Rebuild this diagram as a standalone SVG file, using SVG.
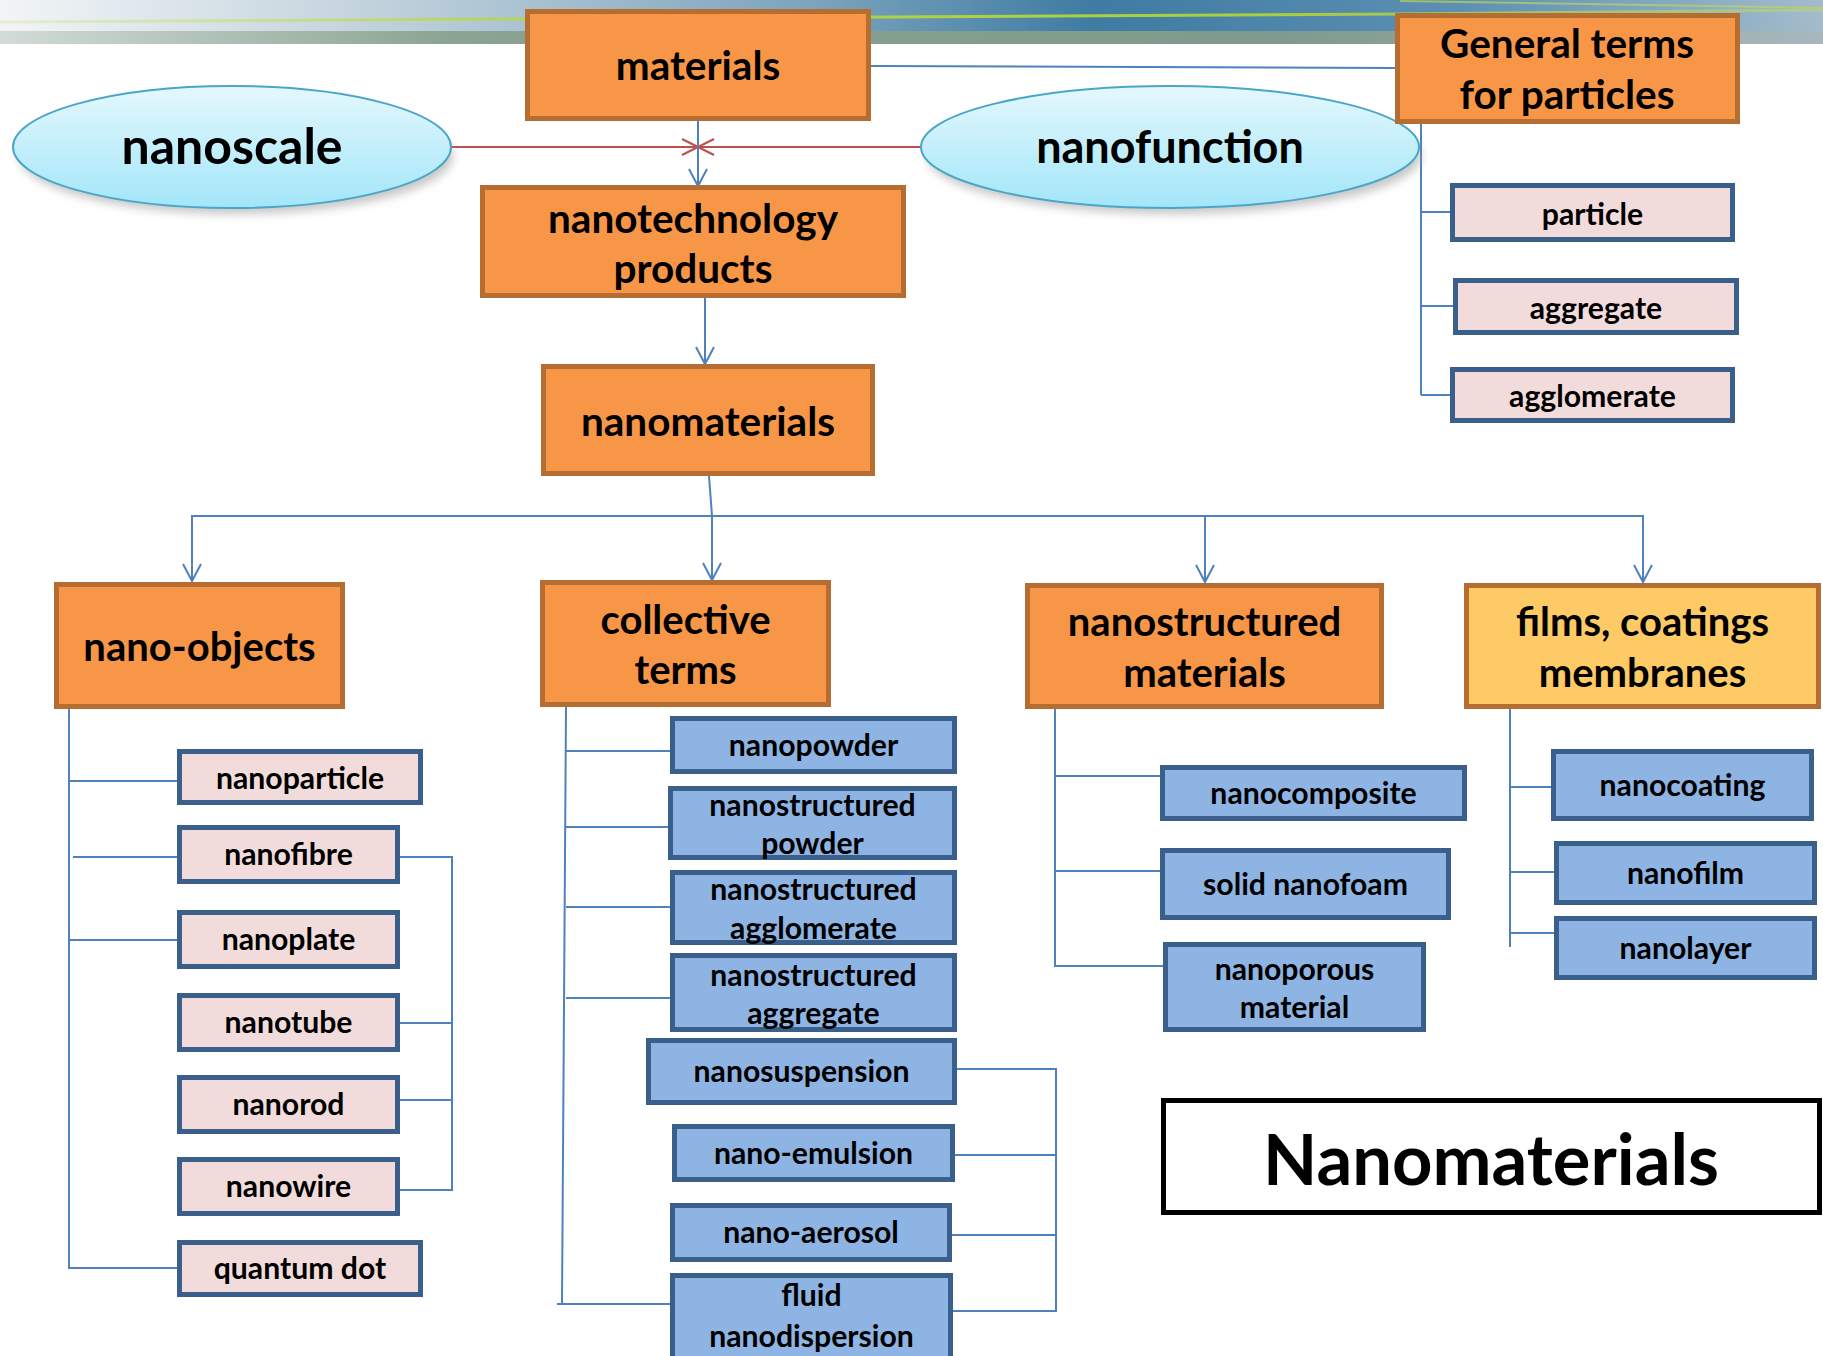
<svg xmlns="http://www.w3.org/2000/svg" width="1823" height="1356" viewBox="0 0 1823 1356">
<defs>
<style>
.t{font-family:Lato,"Open Sans","Liberation Sans",sans-serif;font-weight:bold;fill:#000;text-anchor:middle}
.or{fill:#f79646;stroke:#b66d31;stroke-width:5}
.yl{fill:#fdca65;stroke:#b66d31;stroke-width:5}
.pk{fill:#f2dcdb;stroke:#3a5f8b;stroke-width:5}
.bl{fill:#8eb4e3;stroke:#3a5f8b;stroke-width:5}
.c{fill:none;stroke:#4f81bd;stroke-width:2}
.l1{font-size:40.5px}
.l2{font-size:40px}
.l3{font-size:30.2px}
</style>
<marker id="arr" markerUnits="userSpaceOnUse" markerWidth="24" markerHeight="24" viewBox="-20 -12 24 24" refX="0" refY="0" orient="auto-start-reverse">
<path d="M-17,-9 L0,0 L-17,9" fill="none" stroke="#4f81bd" stroke-width="2"/>
</marker>
<linearGradient id="ell" x1="0" y1="0" x2="0" y2="1">
<stop offset="0" stop-color="#e4f8fd"/>
<stop offset="1" stop-color="#a3e6f9"/>
</linearGradient>
<filter id="sh" x="-20%" y="-20%" width="140%" height="160%">
<feGaussianBlur stdDeviation="5"/>
</filter>
<linearGradient id="ban" x1="0" y1="0" x2="1" y2="0">
<stop offset="0" stop-color="#f2f5f7"/>
<stop offset="0.2" stop-color="#c3d3dd"/>
<stop offset="0.45" stop-color="#7aa3bd"/>
<stop offset="0.6" stop-color="#3f7ba3"/>
<stop offset="0.8" stop-color="#5d8fb3"/>
<stop offset="1" stop-color="#a3bccc"/>
</linearGradient>
<linearGradient id="band" x1="0" y1="0" x2="1" y2="0">
<stop offset="0" stop-color="#d3dbd7"/>
<stop offset="0.25" stop-color="#8aa392"/>
<stop offset="0.7" stop-color="#7f9a8c"/>
<stop offset="1" stop-color="#a9b7bd"/>
</linearGradient>
<linearGradient id="yline" x1="0" y1="0" x2="1" y2="0">
<stop offset="0" stop-color="#d6e69a" stop-opacity="0.4"/>
<stop offset="0.3" stop-color="#b4d44a"/>
<stop offset="0.7" stop-color="#a8cf3c"/>
<stop offset="1" stop-color="#c2d86a" stop-opacity="0.5"/>
</linearGradient>
</defs>

<g id="banner">
<rect x="0" y="0" width="1823" height="44" fill="url(#ban)"/>
<rect x="0" y="31" width="1823" height="13" fill="url(#band)"/>
<path d="M0,22 C400,20 800,16 1400,14 L1823,10" fill="none" stroke="url(#yline)" stroke-width="3"/>
<path d="M1400,1 C1600,3 1700,6 1823,8" fill="none" stroke="#b9d45a" stroke-width="2" opacity="0.7"/>
</g>

<g id="connectors">
<line x1="871" y1="66" x2="1395" y2="68" class="c"/>
<line x1="451" y1="147" x2="921" y2="147" stroke="#c0504d" stroke-width="2"/>
<path d="M682,139 L714,155 M682,155 L714,139" stroke="#c0504d" stroke-width="2"/>
<line x1="698" y1="121" x2="698" y2="186" class="c" marker-end="url(#arr)"/>
<line x1="705" y1="298" x2="705" y2="364" class="c" marker-end="url(#arr)"/>
<line x1="709" y1="476" x2="712" y2="516" class="c"/>
<polyline points="192,581 192,516 1643,516 1643,582" class="c" marker-start="url(#arr)" marker-end="url(#arr)"/>
<line x1="712" y1="516" x2="712" y2="580" class="c" marker-end="url(#arr)"/>
<line x1="1205" y1="516" x2="1205" y2="582" class="c" marker-end="url(#arr)"/>
<path d="M1421,116 L1421,395 M1421,212 L1450,212 M1421,306 L1453,306 M1421,395 L1450,395" class="c"/>
<path d="M69,709 L69,1268 L177,1268 M69,781 L177,781 M73,857 L177,857 M69,940 L177,940" class="c"/>
<path d="M400,857 L452,857 L452,1190 L400,1190 M400,1023 L452,1023 M400,1100 L452,1100" class="c"/>
<path d="M566,707 L562,1304 M557,1304 L670,1304 M566,751 L670,751 M566,827 L668,827 M566,907 L670,907 M566,998 L670,998" class="c"/>
<path d="M957,1069 L1056,1069 L1056,1311 L953,1311 M955,1155 L1056,1155 M952,1235 L1056,1235" class="c"/>
<path d="M1055,709 L1055,966 L1163,966 M1055,776 L1160,776 M1055,871 L1160,871" class="c"/>
<path d="M1510,709 L1510,947 M1510,787 L1551,787 M1510,872 L1554,872 M1510,933 L1554,933" class="c"/>
</g>

<g id="nanoscale">
<ellipse cx="236" cy="156" rx="217" ry="58" fill="#999" opacity="0.55" filter="url(#sh)"/>
<ellipse cx="232" cy="147" rx="219" ry="61" fill="url(#ell)" stroke="#4aa6c8" stroke-width="2"/>
<text x="232" y="164" class="t" style="font-size:50px">nanoscale</text>
</g>
<g id="nanofunction">
<ellipse cx="1174" cy="156" rx="247" ry="58" fill="#999" opacity="0.55" filter="url(#sh)"/>
<ellipse cx="1170" cy="147" rx="249" ry="61" fill="url(#ell)" stroke="#4aa6c8" stroke-width="2"/>
<text x="1170" y="163" class="t" style="font-size:45px">nanofunction</text>
</g>

<g id="materials"><rect x="527.5" y="11.5" width="341" height="107" class="or"/><text x="698" y="80" class="t l1">materials</text></g>
<g id="general-terms"><rect x="1397.5" y="15.5" width="340" height="106" class="or"/><text x="1567" y="58" class="t l1">General terms</text><text x="1567" y="109" class="t l1">for particles</text></g>
<g id="nanotechnology-products"><rect x="482.5" y="187.5" width="421" height="108" class="or"/><text x="693" y="233" class="t l1">nanotechnology</text><text x="693" y="283" class="t l1">products</text></g>
<g id="nanomaterials"><rect x="543.5" y="366.5" width="329" height="107" class="or"/><text x="708" y="436" class="t l1">nanomaterials</text></g>

<g id="nano-objects"><rect x="56.5" y="584.5" width="286" height="122" class="or"/><text x="199.5" y="661" class="t l2">nano-objects</text></g>
<g id="collective-terms"><rect x="542.5" y="582.5" width="286" height="122" class="or"/><text x="685.5" y="634" class="t l2">collective</text><text x="685.5" y="684" class="t l2">terms</text></g>
<g id="nanostructured-materials"><rect x="1027.5" y="585.5" width="354" height="121" class="or"/><text x="1204.5" y="636" class="t l2">nanostructured</text><text x="1204.5" y="687" class="t l2">materials</text></g>
<g id="films-coatings-membranes"><rect x="1466.5" y="585.5" width="352" height="121" class="yl"/><text x="1642.5" y="636" class="t l2">films, coatings</text><text x="1642.5" y="687" class="t l2">membranes</text></g>

<g id="particle"><rect x="1452.5" y="185.5" width="280" height="54" class="pk"/><text x="1592.5" y="225" class="t l3">particle</text></g>
<g id="aggregate"><rect x="1455.5" y="280.5" width="281" height="52" class="pk"/><text x="1596" y="319" class="t l3">aggregate</text></g>
<g id="agglomerate"><rect x="1452.5" y="369.5" width="280" height="51" class="pk"/><text x="1592.5" y="407" class="t l3">agglomerate</text></g>

<g id="nanoparticle"><rect x="179.5" y="751.5" width="241" height="51" class="pk"/><text x="300" y="789" class="t l3">nanoparticle</text></g>
<g id="nanofibre"><rect x="179.5" y="827.5" width="218" height="54" class="pk"/><text x="288.5" y="865" class="t l3">nanofibre</text></g>
<g id="nanoplate"><rect x="179.5" y="912.5" width="218" height="54" class="pk"/><text x="288.5" y="950" class="t l3">nanoplate</text></g>
<g id="nanotube"><rect x="179.5" y="995.5" width="218" height="54" class="pk"/><text x="288.5" y="1033" class="t l3">nanotube</text></g>
<g id="nanorod"><rect x="179.5" y="1077.5" width="218" height="54" class="pk"/><text x="288.5" y="1115" class="t l3">nanorod</text></g>
<g id="nanowire"><rect x="179.5" y="1159.5" width="218" height="54" class="pk"/><text x="288.5" y="1197" class="t l3">nanowire</text></g>
<g id="quantum-dot"><rect x="179.5" y="1242.5" width="241" height="52" class="pk"/><text x="300" y="1279" class="t l3">quantum dot</text></g>

<g id="nanopowder"><rect x="672.5" y="718.5" width="282" height="53" class="bl"/><text x="813.5" y="756" class="t l3">nanopowder</text></g>
<g id="nanostructured-powder"><rect x="670.5" y="788.5" width="284" height="69" class="bl"/><text x="812.5" y="816" class="t l3">nanostructured</text><text x="812.5" y="854" class="t l3">powder</text></g>
<g id="nanostructured-agglomerate"><rect x="672.5" y="872.5" width="282" height="70" class="bl"/><text x="813.5" y="900" class="t l3">nanostructured</text><text x="813.5" y="939" class="t l3">agglomerate</text></g>
<g id="nanostructured-aggregate"><rect x="672.5" y="955.5" width="282" height="74" class="bl"/><text x="813.5" y="986" class="t l3">nanostructured</text><text x="813.5" y="1024" class="t l3">aggregate</text></g>
<g id="nanosuspension"><rect x="648.5" y="1040.5" width="306" height="62" class="bl"/><text x="801.5" y="1082" class="t l3">nanosuspension</text></g>
<g id="nano-emulsion"><rect x="674.5" y="1126.5" width="278" height="53" class="bl"/><text x="813.5" y="1164" class="t l3">nano-emulsion</text></g>
<g id="nano-aerosol"><rect x="672.5" y="1205.5" width="277" height="54" class="bl"/><text x="811" y="1243" class="t l3">nano-aerosol</text></g>
<g id="fluid-nanodispersion"><rect x="672.5" y="1275.5" width="278" height="86" class="bl"/><text x="811.5" y="1306" class="t l3">fluid</text><text x="811.5" y="1347" class="t l3">nanodispersion</text></g>

<g id="nanocomposite"><rect x="1162.5" y="767.5" width="302" height="51" class="bl"/><text x="1313.5" y="804" class="t l3">nanocomposite</text></g>
<g id="solid-nanofoam"><rect x="1162.5" y="850.5" width="286" height="67" class="bl"/><text x="1305.5" y="895" class="t l3">solid nanofoam</text></g>
<g id="nanoporous-material"><rect x="1165.5" y="944.5" width="258" height="85" class="bl"/><text x="1294.5" y="980" class="t l3">nanoporous</text><text x="1294.5" y="1018" class="t l3">material</text></g>

<g id="nanocoating"><rect x="1553.5" y="751.5" width="258" height="67" class="bl"/><text x="1682.5" y="796" class="t l3">nanocoating</text></g>
<g id="nanofilm"><rect x="1556.5" y="843.5" width="258" height="59" class="bl"/><text x="1685.5" y="884" class="t l3">nanofilm</text></g>
<g id="nanolayer"><rect x="1556.5" y="918.5" width="258" height="59" class="bl"/><text x="1685.5" y="959" class="t l3">nanolayer</text></g>

<g id="title"><rect x="1163.5" y="1100.5" width="656" height="112" fill="#fff" stroke="#000" stroke-width="5"/><text x="1491" y="1185" class="t" style="font-size:70.5px">Nanomaterials</text></g>
</svg>
